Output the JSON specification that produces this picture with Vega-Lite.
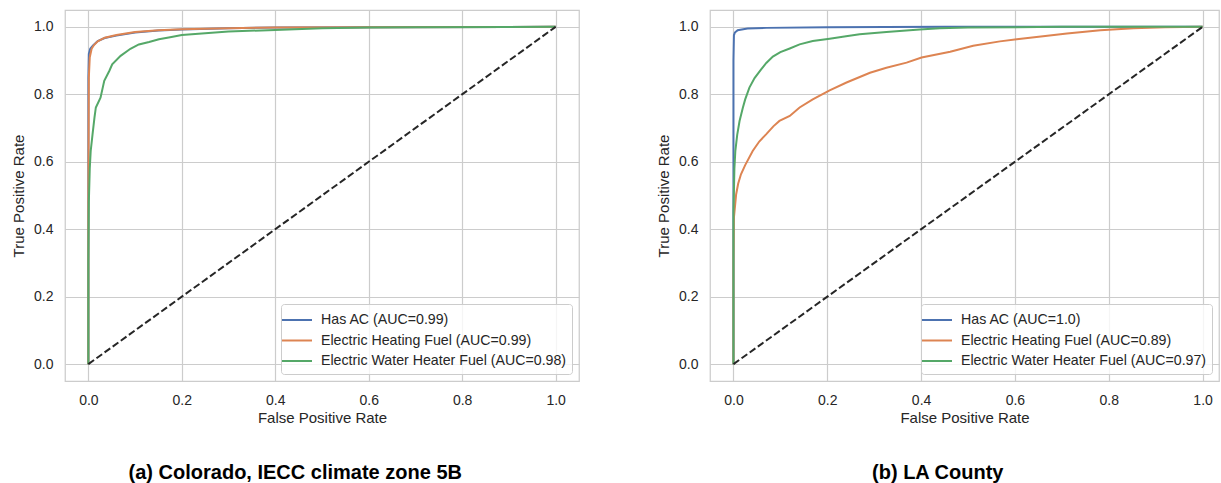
{
  "$schema": "https://vega.github.io/schema/vega-lite/v6.json",
  "autosize": {"type": "pad"},
  "padding": {"left": 10, "top": 9, "right": 0, "bottom": 0},
  "background": "white",
  "config": {
    "font": "Liberation Sans",
    "view": {"stroke": "#cccccc", "strokeWidth": 1.25},
    "axis": {
      "grid": true, "gridColor": "#cccccc", "gridWidth": 1.2,
      "domain": false, "ticks": false,
      "labelFont": "Liberation Sans", "labelFontSize": 14, "labelColor": "#262626", "labelPadding": 12,
      "titleFont": "Liberation Sans", "titleFontSize": 15, "titleFontWeight": "normal", "titleColor": "#262626",
      "labelFlush": false, "labelOverlap": false
    },
    "axisX": {"titlePadding": 3},
    "axisY": {"titlePadding": 7},
    "legend": {
      "orient": "bottom-right", "offset": 7, "symbolType": "M-1.5,0H1.5", "symbolSize": 400, "symbolStrokeWidth": 2,
      "labelFont": "Liberation Sans", "labelFontSize": 14.2, "labelColor": "#262626", "labelLimit": 400, "labelOffset": 13,
      "fillColor": "rgba(255,255,255,0.8)", "strokeColor": "#cccccc", "cornerRadius": 3, "padding": 5, "rowPadding": 1.5
    },
    "title": {"font": "Liberation Sans", "fontSize": 20, "fontWeight": "bold", "color": "#000000"}
  },
  "datasets": {
    "diag": [{"fpr": 0, "tpr": 0}, {"fpr": 1, "tpr": 1}],
    "roc": [
      {"panel": "a", "series": "Has AC (AUC=0.99)", "i": 0, "fpr": 0, "tpr": 0},
      {"panel": "a", "series": "Has AC (AUC=0.99)", "i": 1, "fpr": 0, "tpr": 0.5},
      {"panel": "a", "series": "Has AC (AUC=0.99)", "i": 2, "fpr": 0, "tpr": 0.85},
      {"panel": "a", "series": "Has AC (AUC=0.99)", "i": 3, "fpr": 0.001, "tpr": 0.92},
      {"panel": "a", "series": "Has AC (AUC=0.99)", "i": 4, "fpr": 0.004, "tpr": 0.935},
      {"panel": "a", "series": "Has AC (AUC=0.99)", "i": 5, "fpr": 0.01, "tpr": 0.945},
      {"panel": "a", "series": "Has AC (AUC=0.99)", "i": 6, "fpr": 0.02, "tpr": 0.958},
      {"panel": "a", "series": "Has AC (AUC=0.99)", "i": 7, "fpr": 0.035, "tpr": 0.967},
      {"panel": "a", "series": "Has AC (AUC=0.99)", "i": 8, "fpr": 0.06, "tpr": 0.974},
      {"panel": "a", "series": "Has AC (AUC=0.99)", "i": 9, "fpr": 0.1, "tpr": 0.983},
      {"panel": "a", "series": "Has AC (AUC=0.99)", "i": 10, "fpr": 0.15, "tpr": 0.989},
      {"panel": "a", "series": "Has AC (AUC=0.99)", "i": 11, "fpr": 0.2, "tpr": 0.992},
      {"panel": "a", "series": "Has AC (AUC=0.99)", "i": 12, "fpr": 0.3, "tpr": 0.996},
      {"panel": "a", "series": "Has AC (AUC=0.99)", "i": 13, "fpr": 0.4, "tpr": 0.998},
      {"panel": "a", "series": "Has AC (AUC=0.99)", "i": 14, "fpr": 0.6, "tpr": 0.999},
      {"panel": "a", "series": "Has AC (AUC=0.99)", "i": 15, "fpr": 1, "tpr": 1},

      {"panel": "a", "series": "Electric Heating Fuel (AUC=0.99)", "i": 0, "fpr": 0, "tpr": 0},
      {"panel": "a", "series": "Electric Heating Fuel (AUC=0.99)", "i": 1, "fpr": 0, "tpr": 0.5},
      {"panel": "a", "series": "Electric Heating Fuel (AUC=0.99)", "i": 2, "fpr": 0.001, "tpr": 0.85},
      {"panel": "a", "series": "Electric Heating Fuel (AUC=0.99)", "i": 3, "fpr": 0.003, "tpr": 0.91},
      {"panel": "a", "series": "Electric Heating Fuel (AUC=0.99)", "i": 4, "fpr": 0.007, "tpr": 0.935},
      {"panel": "a", "series": "Electric Heating Fuel (AUC=0.99)", "i": 5, "fpr": 0.012, "tpr": 0.946},
      {"panel": "a", "series": "Electric Heating Fuel (AUC=0.99)", "i": 6, "fpr": 0.02, "tpr": 0.957},
      {"panel": "a", "series": "Electric Heating Fuel (AUC=0.99)", "i": 7, "fpr": 0.035, "tpr": 0.968},
      {"panel": "a", "series": "Electric Heating Fuel (AUC=0.99)", "i": 8, "fpr": 0.06, "tpr": 0.976},
      {"panel": "a", "series": "Electric Heating Fuel (AUC=0.99)", "i": 9, "fpr": 0.1, "tpr": 0.985},
      {"panel": "a", "series": "Electric Heating Fuel (AUC=0.99)", "i": 10, "fpr": 0.15, "tpr": 0.99},
      {"panel": "a", "series": "Electric Heating Fuel (AUC=0.99)", "i": 11, "fpr": 0.2, "tpr": 0.993},
      {"panel": "a", "series": "Electric Heating Fuel (AUC=0.99)", "i": 12, "fpr": 0.3, "tpr": 0.996},
      {"panel": "a", "series": "Electric Heating Fuel (AUC=0.99)", "i": 13, "fpr": 0.4, "tpr": 0.998},
      {"panel": "a", "series": "Electric Heating Fuel (AUC=0.99)", "i": 14, "fpr": 0.6, "tpr": 0.999},
      {"panel": "a", "series": "Electric Heating Fuel (AUC=0.99)", "i": 15, "fpr": 1, "tpr": 1},

      {"panel": "a", "series": "Electric Water Heater Fuel (AUC=0.98)", "i": 0, "fpr": 0, "tpr": 0},
      {"panel": "a", "series": "Electric Water Heater Fuel (AUC=0.98)", "i": 1, "fpr": 0, "tpr": 0.3},
      {"panel": "a", "series": "Electric Water Heater Fuel (AUC=0.98)", "i": 2, "fpr": 0.001, "tpr": 0.48},
      {"panel": "a", "series": "Electric Water Heater Fuel (AUC=0.98)", "i": 3, "fpr": 0.003, "tpr": 0.58},
      {"panel": "a", "series": "Electric Water Heater Fuel (AUC=0.98)", "i": 4, "fpr": 0.005, "tpr": 0.632},
      {"panel": "a", "series": "Electric Water Heater Fuel (AUC=0.98)", "i": 5, "fpr": 0.009, "tpr": 0.682},
      {"panel": "a", "series": "Electric Water Heater Fuel (AUC=0.98)", "i": 6, "fpr": 0.013, "tpr": 0.73},
      {"panel": "a", "series": "Electric Water Heater Fuel (AUC=0.98)", "i": 7, "fpr": 0.016, "tpr": 0.761},
      {"panel": "a", "series": "Electric Water Heater Fuel (AUC=0.98)", "i": 8, "fpr": 0.026, "tpr": 0.79},
      {"panel": "a", "series": "Electric Water Heater Fuel (AUC=0.98)", "i": 9, "fpr": 0.034, "tpr": 0.84},
      {"panel": "a", "series": "Electric Water Heater Fuel (AUC=0.98)", "i": 10, "fpr": 0.045, "tpr": 0.87},
      {"panel": "a", "series": "Electric Water Heater Fuel (AUC=0.98)", "i": 11, "fpr": 0.051, "tpr": 0.889},
      {"panel": "a", "series": "Electric Water Heater Fuel (AUC=0.98)", "i": 12, "fpr": 0.069, "tpr": 0.914},
      {"panel": "a", "series": "Electric Water Heater Fuel (AUC=0.98)", "i": 13, "fpr": 0.09, "tpr": 0.935},
      {"panel": "a", "series": "Electric Water Heater Fuel (AUC=0.98)", "i": 14, "fpr": 0.108, "tpr": 0.948},
      {"panel": "a", "series": "Electric Water Heater Fuel (AUC=0.98)", "i": 15, "fpr": 0.13, "tpr": 0.955},
      {"panel": "a", "series": "Electric Water Heater Fuel (AUC=0.98)", "i": 16, "fpr": 0.151, "tpr": 0.963},
      {"panel": "a", "series": "Electric Water Heater Fuel (AUC=0.98)", "i": 17, "fpr": 0.175, "tpr": 0.969},
      {"panel": "a", "series": "Electric Water Heater Fuel (AUC=0.98)", "i": 18, "fpr": 0.2, "tpr": 0.976},
      {"panel": "a", "series": "Electric Water Heater Fuel (AUC=0.98)", "i": 19, "fpr": 0.3, "tpr": 0.986},
      {"panel": "a", "series": "Electric Water Heater Fuel (AUC=0.98)", "i": 20, "fpr": 0.4, "tpr": 0.991},
      {"panel": "a", "series": "Electric Water Heater Fuel (AUC=0.98)", "i": 21, "fpr": 0.5, "tpr": 0.996},
      {"panel": "a", "series": "Electric Water Heater Fuel (AUC=0.98)", "i": 22, "fpr": 0.6, "tpr": 0.998},
      {"panel": "a", "series": "Electric Water Heater Fuel (AUC=0.98)", "i": 23, "fpr": 0.7, "tpr": 0.999},
      {"panel": "a", "series": "Electric Water Heater Fuel (AUC=0.98)", "i": 24, "fpr": 1, "tpr": 1},

      {"panel": "b", "series": "Has AC (AUC=1.0)", "i": 0, "fpr": 0, "tpr": 0},
      {"panel": "b", "series": "Has AC (AUC=1.0)", "i": 1, "fpr": 0, "tpr": 0.9},
      {"panel": "b", "series": "Has AC (AUC=1.0)", "i": 2, "fpr": 0.001, "tpr": 0.975},
      {"panel": "b", "series": "Has AC (AUC=1.0)", "i": 3, "fpr": 0.003, "tpr": 0.983},
      {"panel": "b", "series": "Has AC (AUC=1.0)", "i": 4, "fpr": 0.009, "tpr": 0.99},
      {"panel": "b", "series": "Has AC (AUC=1.0)", "i": 5, "fpr": 0.03, "tpr": 0.995},
      {"panel": "b", "series": "Has AC (AUC=1.0)", "i": 6, "fpr": 0.07, "tpr": 0.997},
      {"panel": "b", "series": "Has AC (AUC=1.0)", "i": 7, "fpr": 0.2, "tpr": 0.999},
      {"panel": "b", "series": "Has AC (AUC=1.0)", "i": 8, "fpr": 0.45, "tpr": 1},
      {"panel": "b", "series": "Has AC (AUC=1.0)", "i": 9, "fpr": 1, "tpr": 1},

      {"panel": "b", "series": "Electric Heating Fuel (AUC=0.89)", "i": 0, "fpr": 0, "tpr": 0},
      {"panel": "b", "series": "Electric Heating Fuel (AUC=0.89)", "i": 1, "fpr": 0, "tpr": 0.3},
      {"panel": "b", "series": "Electric Heating Fuel (AUC=0.89)", "i": 2, "fpr": 0.001, "tpr": 0.434},
      {"panel": "b", "series": "Electric Heating Fuel (AUC=0.89)", "i": 3, "fpr": 0.0057, "tpr": 0.503},
      {"panel": "b", "series": "Electric Heating Fuel (AUC=0.89)", "i": 4, "fpr": 0.01, "tpr": 0.535},
      {"panel": "b", "series": "Electric Heating Fuel (AUC=0.89)", "i": 5, "fpr": 0.016, "tpr": 0.563},
      {"panel": "b", "series": "Electric Heating Fuel (AUC=0.89)", "i": 6, "fpr": 0.025, "tpr": 0.59},
      {"panel": "b", "series": "Electric Heating Fuel (AUC=0.89)", "i": 7, "fpr": 0.041, "tpr": 0.632},
      {"panel": "b", "series": "Electric Heating Fuel (AUC=0.89)", "i": 8, "fpr": 0.055, "tpr": 0.66},
      {"panel": "b", "series": "Electric Heating Fuel (AUC=0.89)", "i": 9, "fpr": 0.07, "tpr": 0.682},
      {"panel": "b", "series": "Electric Heating Fuel (AUC=0.89)", "i": 10, "fpr": 0.085, "tpr": 0.705},
      {"panel": "b", "series": "Electric Heating Fuel (AUC=0.89)", "i": 11, "fpr": 0.098, "tpr": 0.721},
      {"panel": "b", "series": "Electric Heating Fuel (AUC=0.89)", "i": 12, "fpr": 0.12, "tpr": 0.736},
      {"panel": "b", "series": "Electric Heating Fuel (AUC=0.89)", "i": 13, "fpr": 0.141, "tpr": 0.761},
      {"panel": "b", "series": "Electric Heating Fuel (AUC=0.89)", "i": 14, "fpr": 0.169, "tpr": 0.785},
      {"panel": "b", "series": "Electric Heating Fuel (AUC=0.89)", "i": 15, "fpr": 0.205, "tpr": 0.812},
      {"panel": "b", "series": "Electric Heating Fuel (AUC=0.89)", "i": 16, "fpr": 0.241, "tpr": 0.835},
      {"panel": "b", "series": "Electric Heating Fuel (AUC=0.89)", "i": 17, "fpr": 0.291, "tpr": 0.864},
      {"panel": "b", "series": "Electric Heating Fuel (AUC=0.89)", "i": 18, "fpr": 0.326, "tpr": 0.879},
      {"panel": "b", "series": "Electric Heating Fuel (AUC=0.89)", "i": 19, "fpr": 0.369, "tpr": 0.894},
      {"panel": "b", "series": "Electric Heating Fuel (AUC=0.89)", "i": 20, "fpr": 0.401, "tpr": 0.909},
      {"panel": "b", "series": "Electric Heating Fuel (AUC=0.89)", "i": 21, "fpr": 0.462, "tpr": 0.926},
      {"panel": "b", "series": "Electric Heating Fuel (AUC=0.89)", "i": 22, "fpr": 0.511, "tpr": 0.944},
      {"panel": "b", "series": "Electric Heating Fuel (AUC=0.89)", "i": 23, "fpr": 0.568, "tpr": 0.957},
      {"panel": "b", "series": "Electric Heating Fuel (AUC=0.89)", "i": 24, "fpr": 0.604, "tpr": 0.963},
      {"panel": "b", "series": "Electric Heating Fuel (AUC=0.89)", "i": 25, "fpr": 0.66, "tpr": 0.972},
      {"panel": "b", "series": "Electric Heating Fuel (AUC=0.89)", "i": 26, "fpr": 0.711, "tpr": 0.98},
      {"panel": "b", "series": "Electric Heating Fuel (AUC=0.89)", "i": 27, "fpr": 0.782, "tpr": 0.99},
      {"panel": "b", "series": "Electric Heating Fuel (AUC=0.89)", "i": 28, "fpr": 0.853, "tpr": 0.996},
      {"panel": "b", "series": "Electric Heating Fuel (AUC=0.89)", "i": 29, "fpr": 0.92, "tpr": 0.999},
      {"panel": "b", "series": "Electric Heating Fuel (AUC=0.89)", "i": 30, "fpr": 1, "tpr": 1},

      {"panel": "b", "series": "Electric Water Heater Fuel (AUC=0.97)", "i": 0, "fpr": 0, "tpr": 0},
      {"panel": "b", "series": "Electric Water Heater Fuel (AUC=0.97)", "i": 1, "fpr": 0, "tpr": 0.45},
      {"panel": "b", "series": "Electric Water Heater Fuel (AUC=0.97)", "i": 2, "fpr": 0.002, "tpr": 0.58},
      {"panel": "b", "series": "Electric Water Heater Fuel (AUC=0.97)", "i": 3, "fpr": 0.004, "tpr": 0.632},
      {"panel": "b", "series": "Electric Water Heater Fuel (AUC=0.97)", "i": 4, "fpr": 0.008, "tpr": 0.68},
      {"panel": "b", "series": "Electric Water Heater Fuel (AUC=0.97)", "i": 5, "fpr": 0.013, "tpr": 0.721},
      {"panel": "b", "series": "Electric Water Heater Fuel (AUC=0.97)", "i": 6, "fpr": 0.02, "tpr": 0.76},
      {"panel": "b", "series": "Electric Water Heater Fuel (AUC=0.97)", "i": 7, "fpr": 0.025, "tpr": 0.785},
      {"panel": "b", "series": "Electric Water Heater Fuel (AUC=0.97)", "i": 8, "fpr": 0.034, "tpr": 0.82},
      {"panel": "b", "series": "Electric Water Heater Fuel (AUC=0.97)", "i": 9, "fpr": 0.045, "tpr": 0.848},
      {"panel": "b", "series": "Electric Water Heater Fuel (AUC=0.97)", "i": 10, "fpr": 0.059, "tpr": 0.874},
      {"panel": "b", "series": "Electric Water Heater Fuel (AUC=0.97)", "i": 11, "fpr": 0.07, "tpr": 0.893},
      {"panel": "b", "series": "Electric Water Heater Fuel (AUC=0.97)", "i": 12, "fpr": 0.084, "tpr": 0.912},
      {"panel": "b", "series": "Electric Water Heater Fuel (AUC=0.97)", "i": 13, "fpr": 0.1, "tpr": 0.925},
      {"panel": "b", "series": "Electric Water Heater Fuel (AUC=0.97)", "i": 14, "fpr": 0.12, "tpr": 0.936},
      {"panel": "b", "series": "Electric Water Heater Fuel (AUC=0.97)", "i": 15, "fpr": 0.141, "tpr": 0.948},
      {"panel": "b", "series": "Electric Water Heater Fuel (AUC=0.97)", "i": 16, "fpr": 0.169, "tpr": 0.958},
      {"panel": "b", "series": "Electric Water Heater Fuel (AUC=0.97)", "i": 17, "fpr": 0.205, "tpr": 0.965},
      {"panel": "b", "series": "Electric Water Heater Fuel (AUC=0.97)", "i": 18, "fpr": 0.24, "tpr": 0.972},
      {"panel": "b", "series": "Electric Water Heater Fuel (AUC=0.97)", "i": 19, "fpr": 0.269, "tpr": 0.978},
      {"panel": "b", "series": "Electric Water Heater Fuel (AUC=0.97)", "i": 20, "fpr": 0.326, "tpr": 0.985},
      {"panel": "b", "series": "Electric Water Heater Fuel (AUC=0.97)", "i": 21, "fpr": 0.397, "tpr": 0.992},
      {"panel": "b", "series": "Electric Water Heater Fuel (AUC=0.97)", "i": 22, "fpr": 0.44, "tpr": 0.996},
      {"panel": "b", "series": "Electric Water Heater Fuel (AUC=0.97)", "i": 23, "fpr": 0.5, "tpr": 0.998},
      {"panel": "b", "series": "Electric Water Heater Fuel (AUC=0.97)", "i": 24, "fpr": 0.7, "tpr": 1},
      {"panel": "b", "series": "Electric Water Heater Fuel (AUC=0.97)", "i": 25, "fpr": 1, "tpr": 1}
    ]
  },
  "spacing": 75,
  "hconcat": [
    {
      "width": 514,
      "height": 371,
      "title": {"text": "(a) Colorado, IECC climate zone 5B", "orient": "bottom", "anchor": "middle", "frame": "bounds", "offset": 38},
      "layer": [
        {
          "data": {"name": "roc"},
          "transform": [{"filter": "datum.panel === 'a'"}],
          "mark": {"type": "line", "strokeWidth": 2},
          "encoding": {
            "x": {"field": "fpr", "type": "quantitative", "title": "False Positive Rate",
                  "scale": {"domain": [-0.05, 1.05], "nice": false, "zero": false},
                  "axis": {"values": [0, 0.2, 0.4, 0.6, 0.8, 1.0], "format": ".1f"}},
            "y": {"field": "tpr", "type": "quantitative", "title": "True Positive Rate",
                  "scale": {"domain": [-0.05, 1.05], "nice": false, "zero": false},
                  "axis": {"values": [0, 0.2, 0.4, 0.6, 0.8, 1.0], "format": ".1f"}},
            "order": {"field": "i", "type": "quantitative"},
            "color": {"field": "series", "type": "nominal", "title": null,
                      "scale": {"domain": ["Has AC (AUC=0.99)", "Electric Heating Fuel (AUC=0.99)", "Electric Water Heater Fuel (AUC=0.98)"],
                                "range": ["#4C72B0", "#DD8452", "#55A868"]}}
          }
        },
        {
          "data": {"name": "diag"},
          "mark": {"type": "line", "color": "#262626", "strokeWidth": 2, "strokeDash": [7, 3]},
          "encoding": {
            "x": {"field": "fpr", "type": "quantitative"},
            "y": {"field": "tpr", "type": "quantitative"}
          }
        }
      ]
    },
    {
      "width": 509,
      "height": 371,
      "title": {"text": "(b) LA County", "orient": "bottom", "anchor": "middle", "frame": "bounds", "offset": 38},
      "layer": [
        {
          "data": {"name": "roc"},
          "transform": [{"filter": "datum.panel === 'b'"}],
          "mark": {"type": "line", "strokeWidth": 2},
          "encoding": {
            "x": {"field": "fpr", "type": "quantitative", "title": "False Positive Rate",
                  "scale": {"domain": [-0.05, 1.035], "nice": false, "zero": false},
                  "axis": {"values": [0, 0.2, 0.4, 0.6, 0.8, 1.0], "format": ".1f"}},
            "y": {"field": "tpr", "type": "quantitative", "title": "True Positive Rate",
                  "scale": {"domain": [-0.05, 1.05], "nice": false, "zero": false},
                  "axis": {"values": [0, 0.2, 0.4, 0.6, 0.8, 1.0], "format": ".1f"}},
            "order": {"field": "i", "type": "quantitative"},
            "color": {"field": "series", "type": "nominal", "title": null,
                      "scale": {"domain": ["Has AC (AUC=1.0)", "Electric Heating Fuel (AUC=0.89)", "Electric Water Heater Fuel (AUC=0.97)"],
                                "range": ["#4C72B0", "#DD8452", "#55A868"]}}
          }
        },
        {
          "data": {"name": "diag"},
          "mark": {"type": "line", "color": "#262626", "strokeWidth": 2, "strokeDash": [7, 3]},
          "encoding": {
            "x": {"field": "fpr", "type": "quantitative"},
            "y": {"field": "tpr", "type": "quantitative"}
          }
        }
      ]
    }
  ],
  "resolve": {"scale": {"color": "independent", "x": "independent", "y": "independent"}, "legend": {"color": "independent"}}
}
